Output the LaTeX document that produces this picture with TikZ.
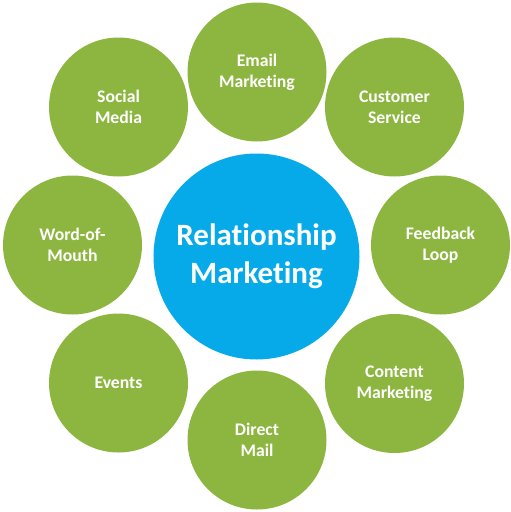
\documentclass[tikz,border=0pt]{standalone}
\usepackage{fontspec}
\setmainfont{Carlito}[Ligatures=NoCommon]
\definecolor{leaf}{HTML}{8DB640}
\definecolor{sky}{HTML}{06AAE8}
\begin{document}
\begin{tikzpicture}[x=1pt,y=-1pt,
  petal/.style={circle,fill=leaf,minimum size=139pt,inner sep=0pt,text=white,font=\bfseries\fontsize{17.7}{21}\selectfont,align=center},
  hub/.style={circle,fill=sky,minimum size=206pt,inner sep=0pt,text=white,font=\bfseries\fontsize{31}{38}\selectfont,align=center}]
\useasboundingbox (0,0) rectangle (511,512);
\node[hub] (rm) at (256.5,256.5) {Relationship\\Marketing};
\node[petal] (email) at (257,72) {Email\\Marketing};
\node[petal] (cust) at (394.5,107) {Customer\\Service};
\node[petal] (feed) at (440.5,245) {Feedback\\Loop};
\node[petal] (cont) at (394.5,383.5) {Content\\Marketing};
\node[petal] (mail) at (257,440) {Direct\\Mail};
\node[petal] (evt) at (118.5,383) {Events};
\node[petal] (wom) at (72.5,245) {Word-of-\\Mouth};
\node[petal] (soc) at (118.5,107) {Social\\Media};
\end{tikzpicture}
\end{document}
